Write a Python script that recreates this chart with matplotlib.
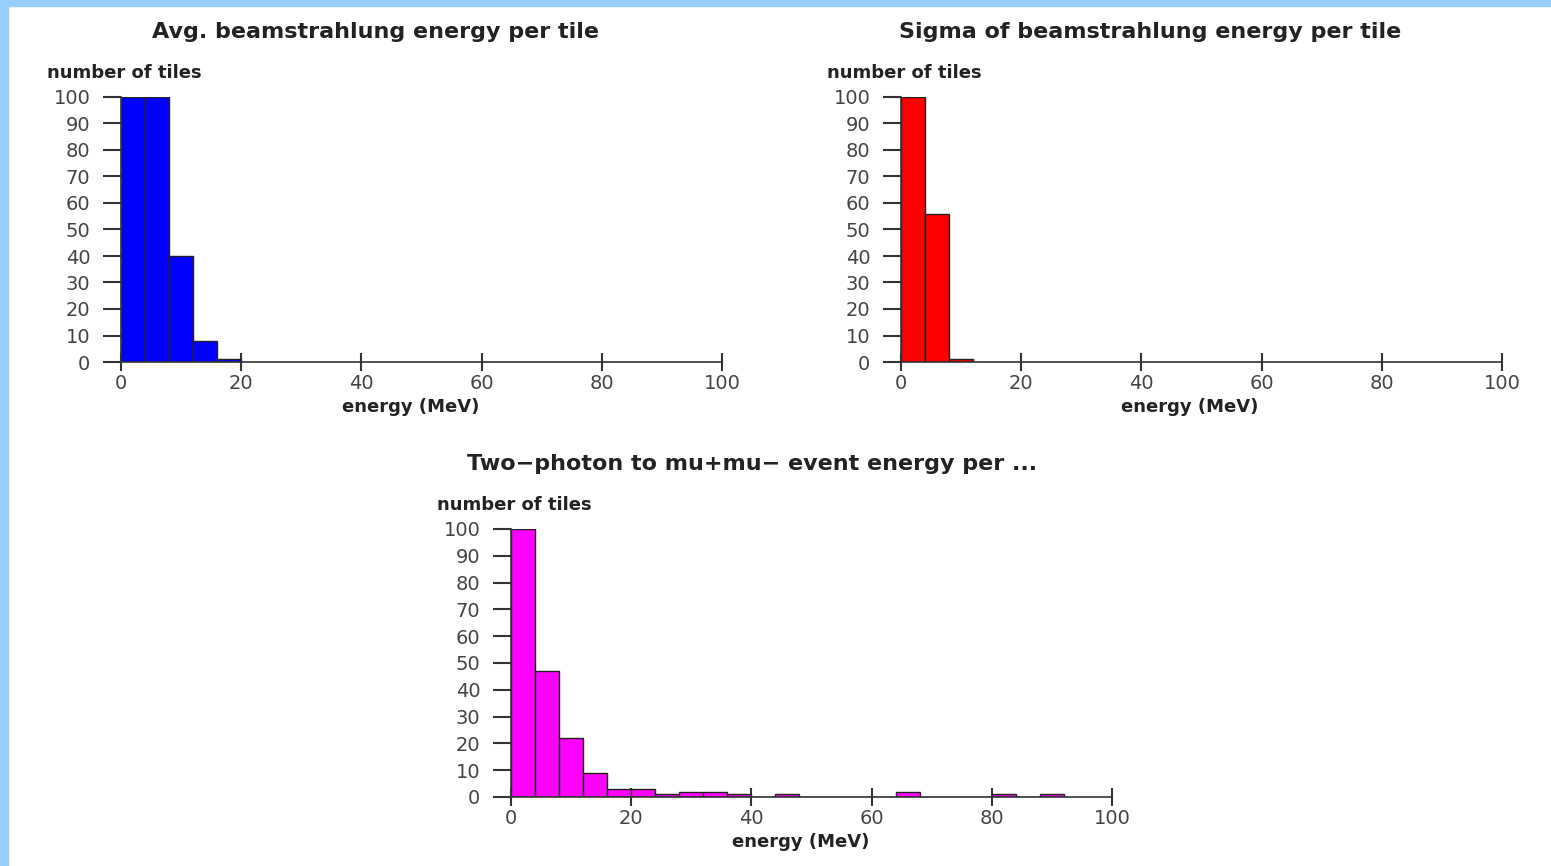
import numpy as np
import matplotlib
matplotlib.use('Agg')
import matplotlib.pyplot as plt
from matplotlib.patches import Rectangle

# bin edges shared by all three histograms (4 MeV wide)
bin_edges = np.arange(0, 104, 4)

# counts per bin (bars above 100 are clipped at 100)
avg_counts = [100, 100, 40, 8, 1]
sigma_counts = [100, 56, 1]
mumu_counts = [100, 47, 22, 9, 3, 3, 1, 2, 2, 1, 0, 1, 0, 0, 0, 0, 2, 0, 0, 0, 1, 0, 1]

titles = ['Avg. beamstrahlung energy per tile',
          'Sigma of beamstrahlung energy per tile',
          'Two\u2212photon to mu+mu\u2212 event energy per ...']
colors = ['#0000ff', '#ff0000', '#ff00ff']
xticks = [0, 20, 40, 60, 80, 100]
yticks = list(range(0, 110, 10))

W, H = 1551, 866
plt.rcParams['font.family'] = ['DejaVu Sans']
fig = plt.figure(figsize=(W / 100, H / 100), dpi=100)

# light blue frame at left and top
fig.patches.append(Rectangle((0, 0), 8 / W, 1, transform=fig.transFigure,
                             color='#99ccff', zorder=0))
fig.patches.append(Rectangle((0, 1 - 6 / H), 1, 6 / H, transform=fig.transFigure,
                             color='#99ccff', zorder=0))

# axes boxes in pixels: x0, y_top, x1, y_bottom ; title centre x ; xlabel centre x
boxes = [(121, 97, 722, 362, 375, 411),
         (901, 97, 1502, 362, 1150, 1190),
         (511, 529, 1112, 797, 752, 801)]
counts = [avg_counts, sigma_counts, mumu_counts]

for (x0, yt, x1, yb, tx, lx), cnt, col, title in zip(boxes, counts, colors, titles):
    ax = fig.add_axes([x0 / W, 1 - yb / H, (x1 - x0) / W, (yb - yt) / H])
    lefts = bin_edges[:len(cnt)]
    ax.bar(lefts, cnt, width=4, align='edge', color=col,
           edgecolor='#222222', linewidth=1.0, zorder=2)
    ax.set_xlim(0, 100)
    ax.set_ylim(0, 100)
    for s in ['top', 'right']:
        ax.spines[s].set_visible(False)
    for s in ['left', 'bottom']:
        ax.spines[s].set_color('#333333')
        ax.spines[s].set_linewidth(1.2)
    ax.set_xticks(xticks)
    ax.set_yticks(yticks)
    ax.tick_params(axis='x', direction='inout', length=13, width=1.5,
                   color='#333333', labelcolor='#444444', labelsize=14, pad=2)
    ax.tick_params(axis='y', direction='out', length=13, width=1.5,
                   color='#333333', labelcolor='#444444', labelsize=14, pad=9)
    ax.patch.set_alpha(0)
    fig.text(lx / W, 1 - (yb + 45) / H, 'energy (MeV)', fontsize=13,
             fontweight='bold', color='#222222', ha='center', va='center')
    # y axis caption above the axis
    fig.text((x0 - 74) / W, 1 - (yt - 24) / H, 'number of tiles', fontsize=13,
             fontweight='bold', color='#222222', ha='left', va='center')
    fig.text(tx / W, 1 - (yt - 65) / H, title, fontsize=16, fontweight='bold',
             color='#222222', ha='center', va='center')

fig.savefig('out.png', dpi=100, facecolor='white')
